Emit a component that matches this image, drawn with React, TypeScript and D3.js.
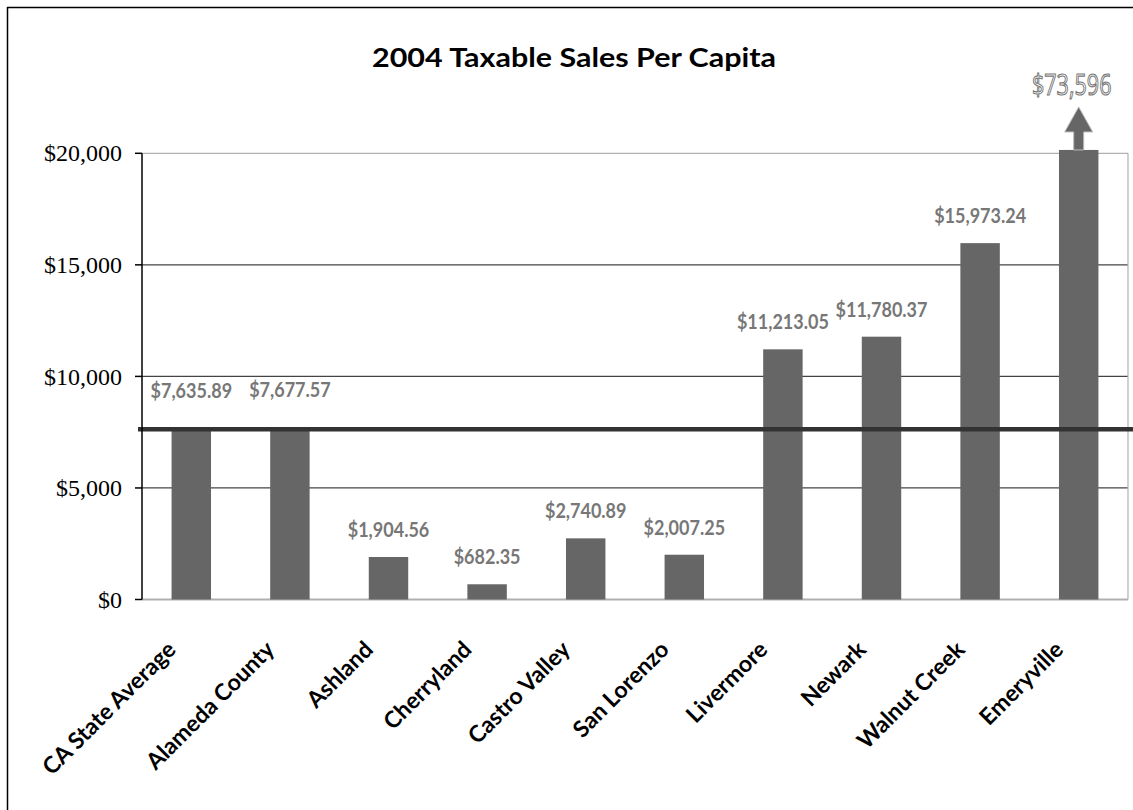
import React from "react";
import * as d3 from "d3";

const categories = [
  "CA State Average",
  "Alameda County",
  "Ashland",
  "Cherryland",
  "Castro Valley",
  "San Lorenzo",
  "Livermore",
  "Newark",
  "Walnut Creek",
  "Emeryville",
];
const values = [7635.89, 7677.57, 1904.56, 682.35, 2740.89, 2007.25, 11213.05, 11780.37, 15973.24, 73596];
const valueLabels = [
  "$7,635.89",
  "$7,677.57",
  "$1,904.56",
  "$682.35",
  "$2,740.89",
  "$2,007.25",
  "$11,213.05",
  "$11,780.37",
  "$15,973.24",
  "$73,596",
];
const yTicks = [0, 5000, 10000, 15000, 20000];
const yTickLabels = ["$0", "$5,000", "$10,000", "$15,000", "$20,000"];
const averageValue = 7635.89;
const axisMax = 20000;
const breakValue = 20150; // where the off-scale bar is cut

const W = 1133;
const H = 810;
const plot = { left: 142, right: 1128, top: 153.3, bottom: 599.5 };

export default function App() {
  const x = d3
    .scaleBand<string>()
    .domain(categories)
    .range([plot.left, plot.right])
    .paddingInner(0.6)
    .paddingOuter(0.3);
  const y = d3.scaleLinear().domain([0, axisMax]).range([plot.bottom, plot.top]);
  const bw = x.bandwidth();
  const avgY = y(averageValue);

  const emIdx = values.length - 1;
  const emX = (x(categories[emIdx]) as number) + bw / 2;
  const emTop = y(Math.min(values[emIdx], breakValue));

  return (
    <svg
      width={W}
      height={H}
      style={{ position: "absolute", left: 0, top: 0, background: "#fff" }}
    >
      {/* outer frame */}
      <line x1={7.5} y1={7} x2={7.5} y2={H} stroke="#000" strokeWidth={1.5} />
      <line x1={7} y1={7.5} x2={W} y2={7.5} stroke="#000" strokeWidth={1.5} />

      <text
        x={574}
        y={67}
        textAnchor="middle"
        fontFamily="Lato, 'Open Sans', sans-serif"
        fontWeight="bold"
        fontSize={27}
        textLength={404}
        lengthAdjust="spacingAndGlyphs"
        fill="#000"
      >
        2004 Taxable Sales Per Capita
      </text>

      {/* gridlines */}
      {yTicks.map((t, i) => (
        <line
          key={"g" + i}
          x1={plot.left}
          x2={plot.right}
          y1={y(t)}
          y2={y(t)}
          stroke={t === 0 || t === axisMax ? "#b0b0b0" : "#444"}
          strokeWidth={t === 0 ? 2 : 1.2}
        />
      ))}
      <line x1={plot.right} x2={plot.right} y1={plot.top} y2={plot.bottom} stroke="#b0b0b0" strokeWidth={1.2} />

      {/* bars */}
      {categories.map((c, i) => {
        const v = Math.min(values[i], breakValue);
        return (
          <rect
            key={"b" + i}
            x={x(c)}
            y={y(v)}
            width={bw}
            height={y(0) - y(v)}
            fill="#666666"
          />
        );
      })}

      {/* average line */}
      <line x1={138} x2={W} y1={avgY} y2={avgY} stroke="#333" strokeWidth={4.5} />

      {/* y axis */}
      <line x1={plot.left} x2={plot.left} y1={plot.top} y2={plot.bottom} stroke="#000" strokeWidth={1.5} />
      {yTicks.map((t, i) => (
        <g key={"t" + i}>
          <line x1={135} x2={plot.left} y1={y(t)} y2={y(t)} stroke="#000" strokeWidth={1.5} />
          <text
            x={122}
            y={y(t)}
            dy="0.34em"
            textAnchor="end"
            fontFamily="'Liberation Serif', 'DejaVu Serif', serif"
            fontSize={24}
            fill="#000"
          >
            {yTickLabels[i]}
          </text>
        </g>
      ))}

      {/* value labels */}
      {categories.map((c, i) => {
        if (i === emIdx) return null;
        const cx = (x(c) as number) + bw / 2;
        const top = y(values[i]);
        const gap = Math.abs(top - avgY) < 12 ? 31 : 20;
        return (
          <g key={"v" + i} transform={`translate(${cx},${top - gap}) scale(0.9,1)`}>
            <text
              textAnchor="middle"
              fontFamily="Lato, 'Open Sans', sans-serif"
              fontWeight="bold"
              fontSize={20}
              fill="#777"
            >
              {valueLabels[i]}
            </text>
          </g>
        );
      })}

      {/* off-scale arrow and label */}
      <path
        d={`M${emX},${emTop - 43} L${emX + 14},${emTop - 18} L${emX + 5},${emTop - 18} L${emX + 5},${emTop} L${emX - 5},${emTop} L${emX - 5},${emTop - 18} L${emX - 14},${emTop - 18} Z`}
        fill="#666"
        stroke="#bbb"
        strokeWidth={1}
      />
      <g transform={`translate(${emX - 7},${emTop - 55}) scale(0.72,1)`}>
        <text
          textAnchor="middle"
          fontFamily="'Open Sans', sans-serif"
          fontSize={30}
          fill="#fff"
          stroke="#777"
          strokeWidth={1.2}
        >
          {valueLabels[emIdx]}
        </text>
      </g>

      {/* category labels */}
      {categories.map((c, i) => {
        const cx = (x(c) as number) + bw / 2;
        return (
          <text
            key={"c" + i}
            transform={`translate(${cx - 14},${651}) rotate(-45)`}
            textAnchor="end"
            fontFamily="Lato, 'Open Sans', sans-serif"
            fontWeight="bold"
            fontSize={23}
            fill="#000"
          >
            {c}
          </text>
        );
      })}
    </svg>
  );
}
